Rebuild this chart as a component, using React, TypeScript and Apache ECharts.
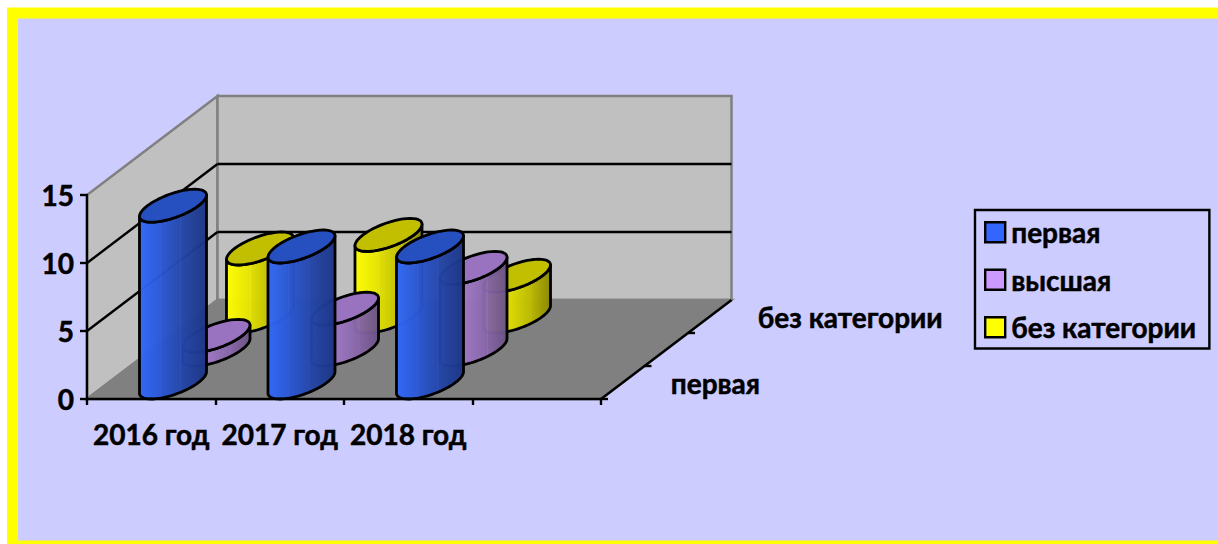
import React, { useEffect, useRef } from "react";
import * as echarts from "echarts";

const categories = ["2016 год", "2017 год", "2018 год", ""];
const seriesNames = ["первая", "высшая", "без категории"];
const firstValues = [13, 10, 10];
const higherValues = [1, 3, 6];
const noneValues = [5, 6, 3];
const depthLabels = ["первая", "", "без категории"];
const gridValues = [5, 10];

const FONT = "Lato, 'Noto Sans', sans-serif";
const FONT_SIZE = 28;
const TEXT_EDGE = { textBorderColor: "#000", textBorderWidth: 0.5 };
const SLOT = { dx: 43.5, dy: -33 };
const BODY_W = 51;

type Shade = { legend: string; top: string; stops: [number, string][] };
const BLUE: Shade = {
  legend: "#3366FF",
  top: "#2650BF",
  stops: [[0, "#3068FA"], [0.3, "#2A58D8"], [0.31, "#3060DC"], [0.32, "#2A56D2"], [0.6, "#2448B0"], [0.61, "#2C50B4"], [0.62, "#2446AA"], [1, "#1A3584"]],
};
const PURPLE: Shade = {
  legend: "#CC99FF",
  top: "#9973BF",
  stops: [[0, "#AE82DA"], [0.35, "#A079C8"], [0.36, "#A880CC"], [0.37, "#9E77C4"], [0.7, "#8766A8"], [0.71, "#8E6EAE"], [0.72, "#8564A4"], [1, "#6A5283"]],
};
const YELLOW: Shade = {
  legend: "#FFFF00",
  top: "#C2BF00",
  stops: [[0, "#FFFF00"], [0.35, "#E6E400"], [0.36, "#EAE810"], [0.37, "#E0DE00"], [0.7, "#BDBB00"], [0.71, "#C4C210"], [0.72, "#B8B600"], [1, "#8A8800"]],
};

function ellipsePoint(cx: number, cy: number, t: number): number[] {
  return [
    cx + (BODY_W / 2) * Math.cos(t) + (SLOT.dx / 2) * Math.sin(t),
    cy + (SLOT.dy / 2) * Math.sin(t),
  ];
}

function arcPoints(cx: number, cy: number, from: number, to: number): number[][] {
  const n = 48;
  const out: number[][] = [];
  for (let i = 0; i <= n; i++) out.push(ellipsePoint(cx, cy, from + ((to - from) * i) / n));
  return out;
}

function cylinderRenderer(slot: number, shade: Shade) {
  return (_params: any, api: any) => {
    const base = api.coord([api.value(0), 0]);
    const top = api.coord([api.value(0), api.value(1)]);
    const cx = base[0] + SLOT.dx * (slot + 0.5);
    const by = base[1] + SLOT.dy * (slot + 0.5);
    const ty = top[1] + SLOT.dy * (slot + 0.5);
    const t0 = Math.atan2(SLOT.dx / 2, BODY_W / 2);
    const lower = arcPoints(cx, by, t0, t0 - Math.PI);
    const upper = arcPoints(cx, ty, t0 - Math.PI, t0);
    const body = lower.concat(upper);
    const ring = arcPoints(cx, ty, 0, Math.PI * 2);
    const line = { stroke: "#000", lineWidth: 2.8, lineJoin: "round" };
    return {
      type: "group",
      children: [
        {
          type: "polygon",
          shape: { points: body },
          style: {
            fill: new echarts.graphic.LinearGradient(0, 0, 1, 0, shade.stops.map(([offset, color]) => ({ offset, color }))),
            opacity: 0.97,
          },
        },
        { type: "polygon", shape: { points: body }, style: { fill: "none", ...line } },
        { type: "polygon", shape: { points: ring }, style: { fill: shade.top, ...line } },
      ],
    };
  };
}

function frameRenderer(_params: any, api: any) {
  const o = api.coord([0, 0]);
  const catW = api.size([1, 0])[0];
  const x0 = o[0] - catW / 2;
  const y0 = o[1];
  const x1 = x0 + catW * categories.length;
  const yTop = api.coord([0, 15])[1];
  const dx = SLOT.dx * 3;
  const dy = SLOT.dy * 3;
  const poly = (points: number[][], fill: string, stroke: string, lineWidth = 2.5) => ({
    type: "polygon",
    shape: { points },
    style: { fill, stroke, lineWidth },
  });
  const seg = (a: number[], b: number[], stroke = "#000", lineWidth = 2.4) => ({
    type: "line",
    shape: { x1: a[0], y1: a[1], x2: b[0], y2: b[1] },
    style: { stroke, lineWidth },
  });
  const children: any[] = [
    poly([[x0, yTop], [x0 + dx, yTop + dy], [x0 + dx, y0 + dy], [x0, y0]], "#C0C0C0", "#808080"),
    poly([[x0 + dx, yTop + dy], [x1 + dx, yTop + dy], [x1 + dx, y0 + dy], [x0 + dx, y0 + dy]], "#C0C0C0", "#808080"),
    poly([[x0, y0], [x1, y0], [x1 + dx, y0 + dy], [x0 + dx, y0 + dy]], "#808080", "#808080"),
  ];
  gridValues.forEach((v) => {
    const y = api.coord([0, v])[1];
    children.push(seg([x0, y], [x0 + dx, y + dy]));
    children.push(seg([x0 + dx, y + dy], [x1 + dx, y + dy]));
  });
  children.push(seg([x1, y0], [x1 + dx, y0 + dy]));
  depthLabels.forEach((label, i) => {
    const px = x1 + SLOT.dx * i;
    const py = y0 + SLOT.dy * i;
    children.push(seg([px, py], [px + 7, py]));
    if (label) {
      children.push({
        type: "text",
        style: {
          x: px + SLOT.dx * 0.5 + 48,
          y: py + SLOT.dy * 0.5,
          text: label,
          fill: "#000",
          stroke: "#000",
          lineWidth: 0.5,
          font: `bold ${FONT_SIZE}px ${FONT}`,
          align: "left",
          verticalAlign: "middle",
        },
      });
    }
  });
  return { type: "group", children };
}

function cylinderSeries(name: string, values: number[], slot: number, shade: Shade) {
  return {
    type: "custom",
    name,
    data: values.map((v, i) => [i, v]),
    encode: { x: 0, y: 1 },
    itemStyle: { color: shade.legend },
    renderItem: cylinderRenderer(slot, shade),
    silent: true,
    z: 3,
  };
}

export default function App() {
  const ref = useRef<HTMLDivElement>(null);
  useEffect(() => {
    document.body.style.margin = "0";
    const chart = echarts.init(ref.current!, undefined, { renderer: "svg" });
    chart.setOption({
      animation: false,
      backgroundColor: "#fff",
      graphic: [
        {
          type: "rect",
          z: -10,
          shape: { x: 12.5, y: 13, width: 1300, height: 533 },
          style: { fill: "#CCCCFF", stroke: "#FFFF00", lineWidth: 11 },
        },
      ],
      grid: { left: 87, top: 195, width: 514, height: 204, containLabel: false },
      xAxis: {
        type: "category",
        data: categories,
        z: 5,
        axisLine: { lineStyle: { color: "#000", width: 2.4 } },
        axisTick: { show: true, length: 6, alignWithLabel: false, lineStyle: { color: "#000", width: 2.4 } },
        axisLabel: { color: "#000", fontFamily: FONT, fontWeight: "bold", fontSize: FONT_SIZE, margin: 21, interval: 0, ...TEXT_EDGE },
      },
      yAxis: {
        type: "value",
        min: 0,
        max: 15,
        interval: 5,
        z: 5,
        splitLine: { show: false },
        axisLine: { show: true, lineStyle: { color: "#000", width: 2.4 } },
        axisTick: { show: true, length: 7, lineStyle: { color: "#000", width: 2.4 } },
        axisLabel: { color: "#000", fontFamily: FONT, fontWeight: "bold", fontSize: FONT_SIZE, margin: 13, ...TEXT_EDGE },
      },
      legend: {
        data: seriesNames,
        orient: "vertical",
        left: 975,
        top: 210,
        padding: [8, 13, 7, 9],
        itemGap: 19,
        itemWidth: 20,
        itemHeight: 20,
        icon: "rect",
        borderColor: "#000",
        borderWidth: 2.4,
        selectedMode: false,
        itemStyle: { borderColor: "#000", borderWidth: 2.4 },
        textStyle: { color: "#000", fontFamily: FONT, fontWeight: "bold", fontSize: FONT_SIZE, padding: [0, 0, 0, 1], ...TEXT_EDGE },
      },
      series: [
        {
          type: "custom",
          name: "frame",
          data: [[0, 0]],
          encode: { x: 0, y: 1 },
          renderItem: frameRenderer,
          silent: true,
          z: 1,
        },
        cylinderSeries(seriesNames[2], noneValues, 2, YELLOW),
        cylinderSeries(seriesNames[1], higherValues, 1, PURPLE),
        cylinderSeries(seriesNames[0], firstValues, 0, BLUE),
      ],
    });
    return () => chart.dispose();
  }, []);
  return <div ref={ref} style={{ width: 1218, height: 544 }} />;
}
